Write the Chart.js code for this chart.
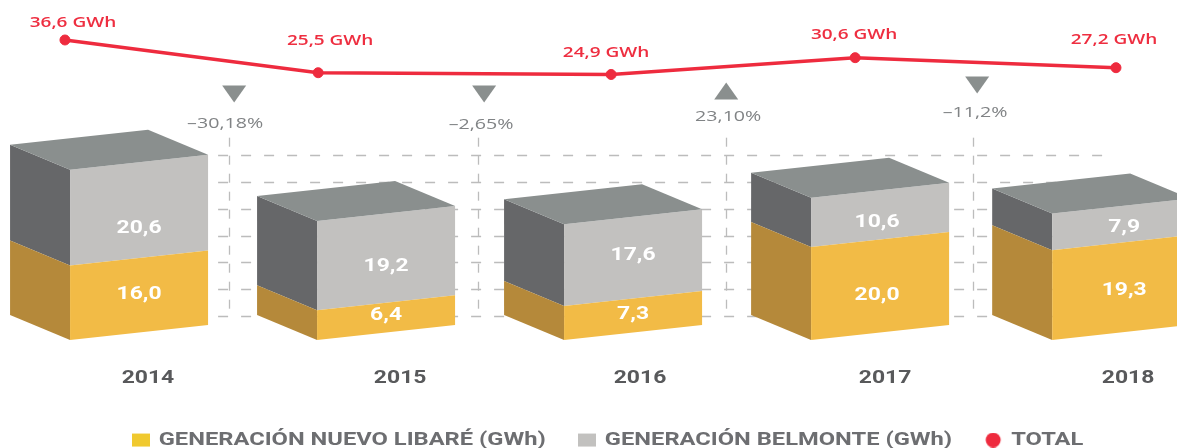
<!DOCTYPE html>
<html><head><meta charset="utf-8">
<style>html,body{margin:0;padding:0;background:#fff}canvas{display:block}</style>
<script src="https://cdn.jsdelivr.net/npm/chart.js@4/dist/chart.umd.min.js"></script>
</head><body><canvas id="c" width="1177" height="448"></canvas>
<script>
const categories=['2014','2015','2016','2017','2018'];
const barYears=[2014,2015,2016,2017,2017.976];
const labelYears=[2014.036,2015.057,2016.028,2017.02,2018.004];
const nuevoLibare=[16.0,6.4,7.3,20.0,19.3];
const belmonte=[20.6,19.2,17.6,10.6,7.9];
const totalYears=[2013.70,2014.725,2015.911,2016.899,2017.955];
const total=[36.6,25.5,24.9,30.6,27.2];
const changeYears=[2014.385,2015.397,2016.377,2017.393];
const changeLevels=[18.3,18.3,19.3,21.3];
const changes=[-30.18,-2.65,23.10,-11.2];
const changeTexts=['–30,18%','–2,65%','23,10%','–11,2%'];
const gridLevels=[5.2,10.9,16.7,22.4,28.2,34,39.8];
const gridYears=[2014.364,2015.372,2016.377,2017.377];

const comma=(v,d)=>v.toFixed(d).replace('.',',');
const SKEW=15,DX=60,DY=25;
const poly=(ctx,pts,fill)=>{ctx.beginPath();pts.forEach((p,i)=>i?ctx.lineTo(p[0],p[1]):ctx.moveTo(p[0],p[1]));ctx.closePath();ctx.fillStyle=fill;ctx.fill();};

const sideColors=['#b5893a','#666769'];
const valueShiftY=[[-8,-9,-8,2,-4],[11,1,-9,0,-4]];
const valueShiftX=[0,0,0,-3,3];
const totalLabelShift=[[8,-17],[12,-32],[-5,-22],[-1,-23],[-2,-28]];
const changeLabelShift=[[-9,30],[-3,31],[2,26],[-2,28]];

/* The reference's lettering is stretched sideways: widen all canvas text by this factor. */
const TEXT_STRETCH=1.31;
const canvas=document.getElementById('c');
const rawCtx=canvas.getContext('2d');
const protoFill=rawCtx.fillText.bind(rawCtx),protoMeasure=rawCtx.measureText.bind(rawCtx);
rawCtx.fillText=function(t,x,y,m){rawCtx.save();rawCtx.translate(x,y);rawCtx.scale(TEXT_STRETCH,1);protoFill(t,0,0);rawCtx.restore();};
rawCtx.measureText=function(t){const r=protoMeasure(t);return {width:r.width*TEXT_STRETCH,actualBoundingBoxAscent:r.actualBoundingBoxAscent,actualBoundingBoxDescent:r.actualBoundingBoxDescent};};

const box3d={id:'box3d',
 afterLayout(chart){const l=chart.legend,h=l.height;l.top=399;l.bottom=399+h;l.left=19;l.right=chart.width+19;},
 beforeDatasetsDraw(chart){
  const ctx=chart.ctx,x=chart.scales.x,y=chart.scales.y;
  ctx.save();ctx.strokeStyle='#bcbcbc';ctx.lineWidth=1.3;
  ctx.setLineDash([10,13]);
  gridLevels.forEach(v=>{const p=Math.round(y.getPixelForValue(v))+.5;ctx.beginPath();ctx.moveTo(x.getPixelForValue(2014.32),p);ctx.lineTo(x.getPixelForValue(2018-.07),p);ctx.stroke();});
  ctx.setLineDash([9,9]);
  gridYears.forEach(v=>{const p=Math.round(x.getPixelForValue(v))+.5;ctx.beginPath();ctx.moveTo(p,y.getPixelForValue(43.5));ctx.lineTo(p,y.getPixelForValue(5.2));ctx.stroke();});
  ctx.restore();
 },
 beforeDatasetDraw(chart,args){
  if(args.meta.type!=='bar')return;
  const ctx=chart.ctx,i=args.index,ds=chart.data.datasets[i];
  ctx.save();
  args.meta.data.forEach(b=>{
   const L=b.x-b.width/2,R=b.x+b.width/2,t=b.y,o=b.base;
   poly(ctx,[[L,o],[L-DX,o-DY],[L-DX,t-DY],[L,t]],sideColors[i]);
   poly(ctx,[[L,o],[R,o-SKEW],[R,t-SKEW],[L,t]],ds.backgroundColor);
   if(i===1)poly(ctx,[[L,t],[L-DX,t-DY],[R-DX,t-SKEW-DY],[R,t-SKEW]],'#8a8f8e');
  });
  ctx.restore();
  return false;
 },
 afterDatasetsDraw(chart){
  const ctx=chart.ctx,sx=chart.scales.x,s2=chart.scales.y2;
  ctx.save();ctx.textAlign='center';ctx.textBaseline='middle';
  [0,1].forEach(i=>{
   const vals=chart.data.datasets[i].data;
   chart.getDatasetMeta(i).data.forEach((b,k)=>{
    ctx.font='700 17.5px Roboto';ctx.fillStyle='#fff';
    ctx.fillText(comma(vals[k].y,1),b.x+valueShiftX[k],(b.y+b.base)/2+valueShiftY[i][k]);
   });
  });
  chart.getDatasetMeta(2).data.forEach((p,k)=>{
   ctx.font='600 14.5px "Open Sans"';ctx.fillStyle='#ee2e40';
   ctx.fillText(comma(total[k],1)+' GWh',p.x+totalLabelShift[k][0],p.y+totalLabelShift[k][1]);
  });
  changes.forEach((c,k)=>{
   const px=sx.getPixelForValue(changeYears[k]),py=s2.getPixelForValue(changeLevels[k]);
   const dir=c<0?1:-1;
   poly(ctx,[[px-12,py-dir*8.5],[px+12,py-dir*8.5],[px,py+dir*8.5]],'#8a8f8e');
   ctx.font='400 15px "Open Sans"';ctx.fillStyle='#808385';
   ctx.fillText(changeTexts[k],px+changeLabelShift[k][0],py+changeLabelShift[k][1]);
  });
  ctx.restore();
 }
};

function swatch(w,h,color,round){
 const c=document.createElement('canvas');c.width=18;c.height=15;
 const g=c.getContext('2d');g.fillStyle=color;
 if(round){g.beginPath();g.arc(9,7.5,7.5,0,Math.PI*2);g.fill();}
 else g.fillRect((18-w)/2,(15-h)/2,w,h);
 return c;
}
const legendMarks=[swatch(18,13,'#f0c92f'),swatch(18,13,'#c2c1bf'),swatch(15,15,'#ee2b3e',true)];

new Chart(canvas,{
 type:'bar',
 data:{datasets:[
  {type:'bar',label:'GENERACIÓN NUEVO LIBARÉ (GWh)',stack:'s',backgroundColor:'#f2bb46',barThickness:138,yAxisID:'y',
   data:barYears.map((x,i)=>({x,y:nuevoLibare[i]}))},
  {type:'bar',label:'GENERACIÓN BELMONTE (GWh)',stack:'s',backgroundColor:'#c2c1bf',barThickness:138,yAxisID:'y',
   data:barYears.map((x,i)=>({x,y:belmonte[i]}))},
  {type:'line',label:'TOTAL',yAxisID:'y2',borderColor:'#ee2b3e',backgroundColor:'#ee2b3e',borderWidth:3.5,pointRadius:5,pointBorderWidth:1,tension:0,clip:false,
   data:totalYears.map((x,i)=>({x,y:total[i]}))}
 ]},
 options:{responsive:false,animation:false,
  layout:{padding:0,autoPadding:false},
  scales:{
   x:{type:'linear',min:2013.437,max:2018.202,offset:false,
      grid:{display:false,drawTicks:false},border:{display:false},
      afterBuildTicks(s){s.ticks=labelYears.map(v=>({value:v}));},
      afterFit(s){s.height=48;s.paddingLeft=0;s.paddingRight=0;},
      ticks:{autoSkip:false,maxRotation:0,padding:28,color:'#58595b',font:{family:'Roboto',weight:'700',size:17.5},callback:(v,i)=>categories[i]}},
   y:{display:false,stacked:true,min:0,max:73.12},
   y2:{display:false,min:-65.1,max:50.16}
  },
  plugins:{tooltip:{enabled:false},
   legend:{position:'bottom',align:'center',
    labels:{usePointStyle:true,boxWidth:18,boxHeight:15,padding:32,color:'#6d6e71',font:{family:'Roboto',weight:'700',size:18.1},
     generateLabels(chart){return chart.data.datasets.map((d,i)=>({text:d.label,fillStyle:d.backgroundColor,strokeStyle:'transparent',lineWidth:0,pointStyle:legendMarks[i],datasetIndex:i,fontColor:'#6d6e71'}));}
    }}}
 },
 plugins:[box3d]
});
</script></body></html>
